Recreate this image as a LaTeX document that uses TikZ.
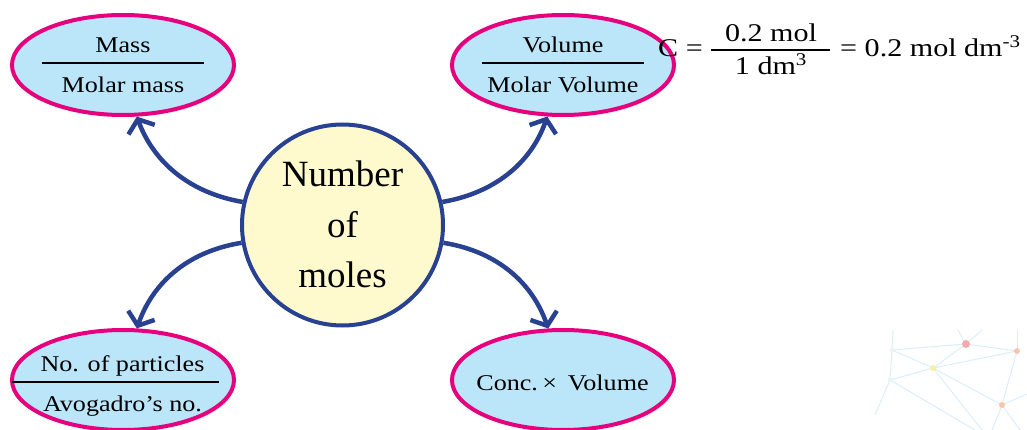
\documentclass[tikz,border=0pt]{standalone}
\usepackage{fontspec}
\setmainfont{Liberation Serif}
\usetikzlibrary{shapes.geometric,arrows.meta}
\definecolor{pinkb}{RGB}{230,0,126}
\definecolor{ovalfill}{RGB}{187,229,248}
\definecolor{hubline}{RGB}{40,65,145}
\definecolor{hubfill}{RGB}{255,249,206}
\definecolor{netline}{RGB}{218,238,248}
\definecolor{dotred}{RGB}{245,170,178}
\definecolor{dotorange}{RGB}{248,196,172}
\definecolor{dotyellow}{RGB}{250,240,160}
\definecolor{dotpale}{RGB}{236,244,240}
\newcommand\hx[1]{\scalebox{1.16}[1]{#1}}
\newcommand\hf[1]{\scalebox{1.18}[1]{#1}}
\begin{document}
\begin{tikzpicture}[x=1pt,y=-1pt,
  oval/.style={ellipse,draw=pinkb,fill=ovalfill,line width=4pt,minimum width=222pt,minimum height=100pt,inner sep=0pt},
  hub/.style={circle,draw=hubline,fill=hubfill,line width=4pt,minimum size=201pt,inner sep=0pt},
  lab/.style={font=\fontsize{22.5}{26}\selectfont,inner sep=0pt,anchor=base},
  bigl/.style={font=\fontsize{37}{44}\selectfont,inner sep=0pt,anchor=base},
  fml/.style={font=\fontsize{25.5}{30}\selectfont,inner sep=0pt,anchor=base},
  link/.style={draw=hubline,line width=4.5pt,-{Straight Barb[length=11pt,width=28pt]}},
  fracrule/.style={line width=2pt},
  net/.style={draw=netline,line width=1pt},
  netdot/.style={circle,inner sep=0pt,minimum size=#1}]
\useasboundingbox (0,0) rectangle (1027,430);

% faint network decoration
\coordinate (n1) at (892,350);
\coordinate (n2) at (966,344);
\coordinate (n3) at (1017,351);
\coordinate (n4) at (933,368);
\coordinate (n5) at (890,380);
\coordinate (n6) at (1002,405);
\draw[net] (n1) -- (n2) -- (n3);
\draw[net] (n2) -- (n4) -- (n3);
\draw[net] (n1) -- (n4) -- (n6) -- (n3);
\draw[net] (n5) -- (n4);
\draw[net] (n1) -- (n5);
\draw[net] (n2) -- (958,330);
\draw[net] (n2) -- (982,330);
\draw[net] (n3) -- (1017,330);
\draw[net] (n1) -- (893,330);
\draw[net] (n6) -- (1027,394);
\draw[net] (n6) -- (992,430);
\draw[net] (n6) -- (1020,430);
\draw[net] (n4) -- (982,430);
\draw[net] (n5) -- (975,430);
\draw[net] (n5) -- (875,415);
\node[netdot=8pt,fill=dotred] (d2) at (n2) {};
\node[netdot=6pt,fill=dotorange] (d3) at (n3) {};
\node[netdot=6pt,fill=dotyellow] (d4) at (n4) {};
\node[netdot=6pt,fill=dotorange] (d6) at (n6) {};
\node[netdot=5pt,fill=dotpale] (d1) at (n1) {};
\node[netdot=5pt,fill=dotpale] (d5) at (n5) {};

% ovals
\node[oval] (tl) at (123,65) {};
\node[oval] (tr) at (563,65) {};
\node[oval] (bl) at (123,380) {};
\node[oval] (br) at (563,380) {};

% hub
\node[hub] (hub) at (342.5,225) {};
\node[bigl] (h1) at (342.5,187) {Number};
\node[bigl] (h2) at (342.5,237) {of};
\node[bigl] (h3) at (342.5,287) {moles};

% oval texts
\node[lab] (tlnum) at (123,53) {\hx{Mass}};
\node[lab] (tlden) at (123,93) {\hx{Molar mass}};
\coordinate (tla) at (42,63); \coordinate (tlb) at (204,63);
\draw[fracrule] (tla) -- (tlb);

\node[lab] (trnum) at (563,53) {\hx{Volume}};
\node[lab] (trden) at (563,93) {\hx{Molar Volume}};
\coordinate (tra) at (482,63); \coordinate (trb) at (644,63);
\draw[fracrule] (tra) -- (trb);

\node[lab] (blnum) at (122.5,371) {\hx{No. of particles}};
\node[lab] (blden) at (122.5,411) {\hx{Avogadro’s no.}};
\coordinate (bla) at (12,382); \coordinate (blb) at (219,382);
\draw[fracrule] (bla) -- (blb);

\node[lab] (brtxt) at (562.5,390.5) {\hx{Conc.\,×\, Volume}};

% connectors
\draw[link] (hub.167) .. controls (185,192) and (152,158) .. (tl.-75);
\draw[link] (hub.190) .. controls (185,252) and (152,285) .. (bl.75);
\draw[link] (hub.13) .. controls (500,192) and (533,158) .. (tr.-107);
\draw[link] (hub.-10) .. controls (500,252) and (533,285) .. (br.106);

% formula
\node[fml,anchor=base west] (fc) at (658,57) {\hf{C =}};
\node[fml] (fnum) at (771,42) {\hf{0.2 mol}};
\node[fml] (fden) at (771,75) {\hf{1 dm\textsuperscript{3}}};
\coordinate (fa) at (711,50); \coordinate (fb) at (830,50);
\draw[fracrule] (fa) -- (fb);
\node[fml,anchor=base west] (fres) at (840,57) {\hf{= 0.2 mol dm\textsuperscript{-3}}};
\end{tikzpicture}
\end{document}
